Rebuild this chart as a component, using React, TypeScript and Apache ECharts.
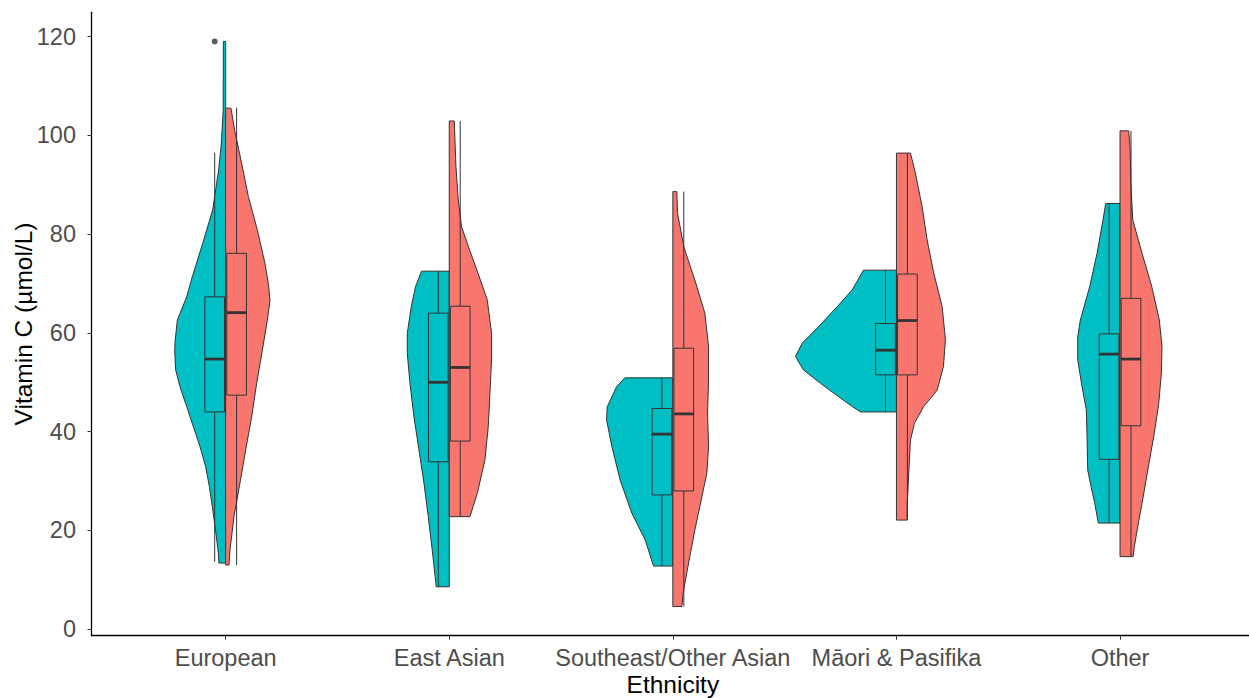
import React, { useEffect, useRef } from "react";
import * as echarts from "echarts";

// ---------- data ----------
const categories = ["European", "East Asian", "Southeast/Other Asian", "Māori & Pasifika", "Other"];
const yTicks = [0, 20, 40, 60, 80, 100, 120];
const catTicks = [1, 2, 3, 4, 5];

// violin profiles: [value, relative density]
const tealEuropean: number[][] = [
  [119.0, 2.3], [105, 2.5], [98.4, 4.3], [93, 7], [84.9, 13], [78.1, 23], [71.4, 33.3], [67.3, 39],
  [62.6, 48.3], [58.5, 50.5], [56.5, 51], [52.5, 50], [49.1, 45.7], [45.1, 39], [41, 32.3], [37, 25.7],
  [32.9, 20], [28.9, 16.3], [24.8, 13.3], [19.4, 9.7], [15.4, 7.3], [13.4, 6.7],
];
const salmonEuropean: number[][] = [
  [105.5, 5.3], [101, 9], [94.3, 16], [87.6, 22.7], [80.8, 31.7], [74.1, 39.3], [70, 42.7], [66.5, 44.3],
  [62.6, 41.7], [56.5, 36.7], [49.8, 31], [43, 26], [36.3, 20], [29.6, 14.3], [22.8, 8.3], [16, 4.3], [13, 3.3],
];
const tealEastAsian: number[][] = [
  [72.5, 27.7], [69.4, 33.7], [65.3, 38], [59.9, 42], [55.9, 42], [49.8, 39.3], [43, 35.3], [36.3, 30.3],
  [29.6, 25.3], [22.8, 21], [16, 17], [8.6, 13],
];
const salmonEastAsian: number[][] = [
  [102.9, 5], [93.6, 6.7], [86.9, 9], [81.5, 12.3], [76.8, 20.3], [72.1, 28.7], [66.7, 38], [59.9, 42.3],
  [54.5, 42.3], [47.8, 40.7], [41, 39], [34.3, 35.7], [27.5, 28], [22.8, 20.7],
];
const tealSoutheast: number[][] = [
  [50.9, 48], [49.1, 56.3], [45, 65.7], [42.4, 66.3], [37, 61], [30.2, 52.7], [23.5, 41], [18.1, 27.7], [12.8, 19.3],
];
const salmonSoutheast: number[][] = [
  [88.6, 4], [84.2, 4.7], [77.4, 11], [70.7, 22], [64, 32], [57.2, 35.7], [50.5, 35.7], [43.7, 34.7],
  [37, 35.7], [31.6, 34], [26.8, 29], [20.1, 22], [13.4, 15.7], [7.3, 10.3], [4.6, 9],
];
const tealMaori: number[][] = [
  [72.7, 33], [68.7, 44.3], [65.3, 59.3], [61.3, 77.7], [57.9, 94.3], [55.2, 101], [52.5, 93], [49.8, 76],
  [47.1, 58], [45.1, 44.3], [44, 36],
];
const salmonMaori: number[][] = [
  [96.4, 14], [92.3, 19], [85.5, 25.7], [78.8, 30.7], [72.1, 37.3], [65.3, 45.7], [58.6, 49], [53.2, 47],
  [48.4, 40.7], [45.1, 27.3], [41.7, 18], [38.3, 14], [31.6, 12.3], [24.8, 10.7], [22.1, 10.7],
];
const tealOther: number[][] = [
  [86.2, 14.3], [82.9, 17], [76.1, 23], [69.4, 30.3], [62.6, 39.7], [59.2, 42.3], [54.5, 42.3], [49.1, 38],
  [44.4, 33.7], [39, 33], [32.2, 32.3], [28.9, 29], [25.5, 25.3], [21.5, 21.7],
];
const salmonOther: number[][] = [
  [100.9, 8.7], [97.4, 10], [89.6, 11], [82.9, 12.7], [76.1, 22], [69.4, 31.7], [62.6, 39.3], [57.2, 42],
  [51.8, 41.3], [45.7, 38.7], [39, 33.7], [32.2, 27.7], [25.5, 22], [20.8, 17.7], [16.7, 14.3], [14.7, 13],
];

const tealProfiles = [tealEuropean, tealEastAsian, tealSoutheast, tealMaori, tealOther];
const salmonProfiles = [salmonEuropean, salmonEastAsian, salmonSoutheast, salmonMaori, salmonOther];

// box stats: [lower whisker, Q1, median, Q3, upper whisker]
const tealBoxes = [
  [13.7, 44.0, 54.7, 67.3, 96.5],
  [8.6, 33.9, 50.0, 64.0, 72.5],
  [12.8, 27.2, 39.5, 44.7, 50.9],
  [44.0, 51.5, 56.5, 61.9, 72.7],
  [21.5, 34.4, 55.7, 59.8, 86.2],
];
const salmonBoxes = [
  [13.0, 47.4, 64.1, 76.1, 105.6],
  [22.8, 38.1, 53.0, 65.4, 102.9],
  [4.6, 28.0, 43.6, 56.9, 88.6],
  [22.1, 51.5, 62.5, 71.9, 96.4],
  [14.7, 41.2, 54.7, 67.0, 100.9],
];
// outliers: [category (1-based), value]
const tealOutliers = [[1, 119.0]];

// ---------- styling constants ----------
const TEAL = "#00BFC4";
const SALMON = "#F8766D";
const LINE = "#333333";
const DENSITY_TO_X = 1 / 223.6;
const BOX_OFFSET = 0.049;
const BOX_WIDTH = 0.088;
const FONT = "'Liberation Sans', Arial, sans-serif";

export default function App() {
  const ref = useRef<HTMLDivElement>(null);

  useEffect(() => {
    if (!ref.current) return;
    const chart = echarts.init(ref.current, null, { renderer: "svg" });

    const violinData: number[][] = [];
    const boxData: number[][] = [];
    categories.forEach((_, i) => {
      const t = tealProfiles[i];
      const s = salmonProfiles[i];
      violinData.push([i + 1, -1, t[t.length - 1][0], t[0][0]]);
      violinData.push([i + 1, 1, s[s.length - 1][0], s[0][0]]);
      boxData.push([i + 1, -1, tealBoxes[i][0], tealBoxes[i][4]]);
      boxData.push([i + 1, 1, salmonBoxes[i][0], salmonBoxes[i][4]]);
    });

    const option: any = {
      animation: false,
      backgroundColor: "#ffffff",
      textStyle: { fontFamily: FONT },
      grid: {
        left: 91.5,
        top: 12.3,
        width: 1162.7,
        height: 623.4,
        containLabel: false,
        outerBoundsMode: "none",
      },
      xAxis: {
        type: "value",
        min: 0.4,
        max: 5.6,
        name: "Ethnicity",
        nameLocation: "middle",
        nameGap: 36.5,
        nameMoveOverlap: false,
        nameTextStyle: { color: "#000000", fontSize: 24.5, fontFamily: FONT },
        axisLine: { show: true, onZero: false, lineStyle: { color: "#000000", width: 1.3 } },
        axisTick: { show: true, length: 4, customValues: catTicks, lineStyle: { color: LINE, width: 1 } },
        axisLabel: {
          customValues: catTicks,
          formatter: (v: number) => categories[Math.round(v) - 1] ?? "",
          color: "#4D4D4D",
          fontSize: 23.5,
          margin: 10.5,
          fontFamily: FONT,
        },
        splitLine: { show: false },
      },
      yAxis: {
        type: "value",
        min: -1.3,
        max: 124.9,
        name: "Vitamin C (µmol/L)",
        nameLocation: "middle",
        nameGap: 56,
        nameRotate: 90,
        nameMoveOverlap: false,
        nameTextStyle: { color: "#000000", fontSize: 24.5, fontFamily: FONT },
        axisLine: { show: true, onZero: false, lineStyle: { color: "#000000", width: 1.3 } },
        axisTick: { show: true, length: 4, customValues: yTicks, lineStyle: { color: LINE, width: 1 } },
        axisLabel: { customValues: yTicks, color: "#4D4D4D", fontSize: 23.5, margin: 15.5, fontFamily: FONT },
        splitLine: { show: false },
      },
      series: [
        {
          type: "custom",
          name: "violins",
          encode: { x: 0, y: [2, 3] },
          data: violinData,
          renderItem: (params: any, api: any) => {
            const cat = api.value(0) as number;
            const side = api.value(1) as number;
            const prof = side < 0 ? tealProfiles[cat - 1] : salmonProfiles[cat - 1];
            const top = prof[0][0];
            const bottom = prof[prof.length - 1][0];
            const pts: number[][] = [api.coord([cat, top])];
            prof.forEach(([v, d]) => pts.push(api.coord([cat + side * d * DENSITY_TO_X, v])));
            pts.push(api.coord([cat, bottom]));
            return {
              type: "polygon",
              shape: { points: pts },
              style: { fill: side < 0 ? TEAL : SALMON, stroke: LINE, lineWidth: 1 },
            };
          },
        },
        {
          type: "custom",
          name: "boxes",
          encode: { x: 0, y: [2, 3] },
          data: boxData,
          renderItem: (params: any, api: any) => {
            const cat = api.value(0) as number;
            const side = api.value(1) as number;
            const b = side < 0 ? tealBoxes[cat - 1] : salmonBoxes[cat - 1];
            const [lo, q1, med, q3, hi] = b;
            const xc = cat + side * BOX_OFFSET;
            const pLo = api.coord([xc, lo]);
            const pQ1 = api.coord([xc, q1]);
            const pQ3 = api.coord([xc, q3]);
            const pHi = api.coord([xc, hi]);
            const tl = api.coord([xc - BOX_WIDTH / 2, q3]);
            const br = api.coord([xc + BOX_WIDTH / 2, q1]);
            const ml = api.coord([xc - BOX_WIDTH / 2, med]);
            const mr = api.coord([xc + BOX_WIDTH / 2, med]);
            const fill = side < 0 ? TEAL : SALMON;
            return {
              type: "group",
              children: [
                { type: "line", shape: { x1: pHi[0], y1: pHi[1], x2: pQ3[0], y2: pQ3[1] }, style: { stroke: LINE, lineWidth: 1 } },
                { type: "line", shape: { x1: pQ1[0], y1: pQ1[1], x2: pLo[0], y2: pLo[1] }, style: { stroke: LINE, lineWidth: 1 } },
                {
                  type: "rect",
                  shape: { x: tl[0], y: tl[1], width: br[0] - tl[0], height: br[1] - tl[1] },
                  style: { fill, stroke: LINE, lineWidth: 1 },
                },
                { type: "line", shape: { x1: ml[0], y1: ml[1], x2: mr[0], y2: mr[1] }, style: { stroke: LINE, lineWidth: 2.8 } },
              ],
            };
          },
        },
        {
          type: "scatter",
          name: "outliers",
          data: tealOutliers.map(([c, v]) => [c - BOX_OFFSET, v]),
          symbol: "circle",
          symbolSize: 6,
          itemStyle: { color: LINE },
        },
      ],
    };

    chart.setOption(option);
    return () => chart.dispose();
  }, []);

  return (
    <div
      ref={ref}
      style={{ position: "fixed", left: 0, top: 0, width: 1249, height: 698, background: "#fff" }}
    />
  );
}
